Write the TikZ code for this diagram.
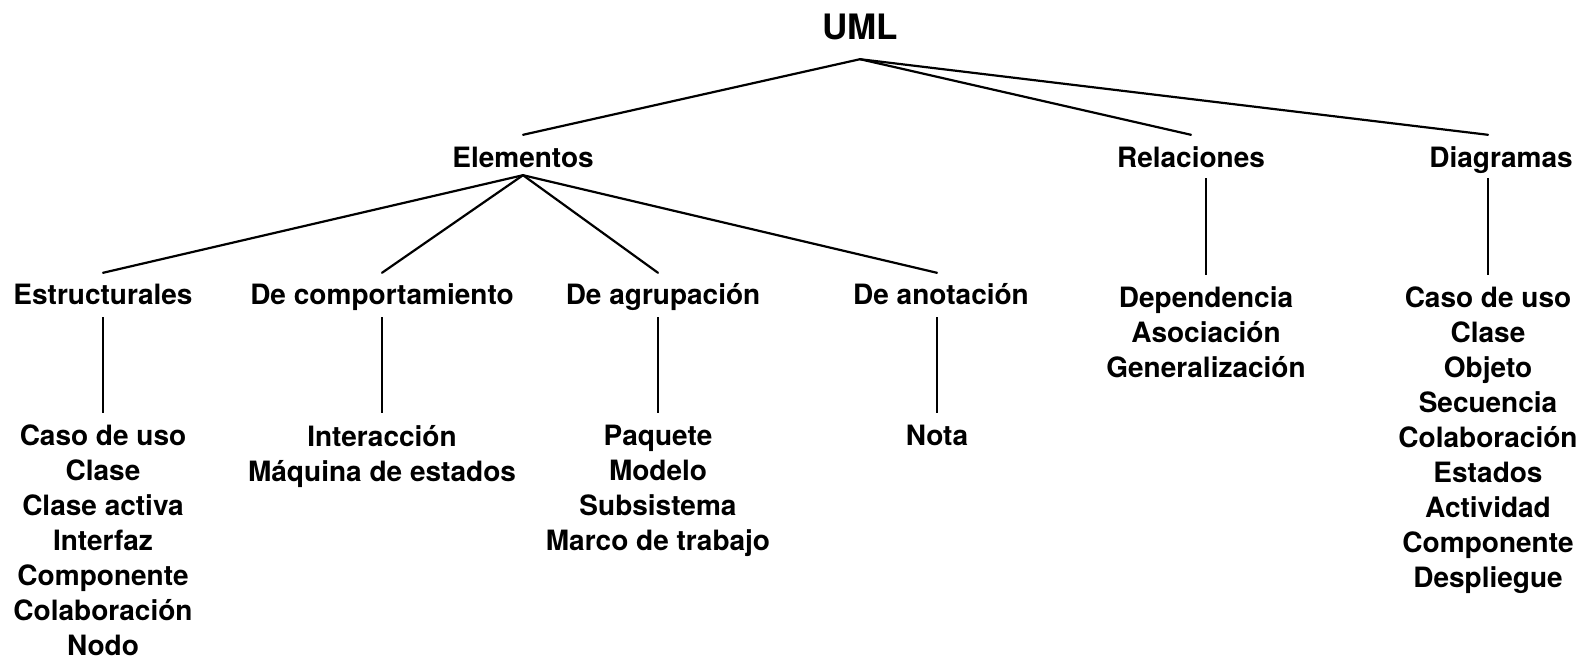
\documentclass[tikz,border=0pt]{standalone}
\usepackage{fontspec}
\setmainfont{TeX Gyre Heros}
\begin{document}
\begin{tikzpicture}[x=1pt,y=-1pt,
  txt/.style={font=\fontsize{28pt}{35pt}\selectfont\bfseries, inner sep=0pt, align=center},
  top/.style={font=\fontsize{35pt}{40pt}\selectfont\bfseries, inner sep=0pt, anchor=base, text depth=19pt},
  lvlone/.style={txt, anchor=base, text height=32pt, text depth=8pt},
  lvltwo/.style={txt, anchor=base, text height=31pt, text depth=13pt},
  leaflist/.style={txt, anchor=north, outer sep=12pt},
  conn/.style={line width=2.2pt, line cap=round},
  vconn/.style={line width=2.6pt}]
\useasboundingbox (0,0) rectangle (1595,669);
\fill[white] (0,0) rectangle (1595,669);

\node[top] (uml) at (860,40) {UML};

\node[lvlone] (elem) at (523,167) {Elementos};
\node[lvlone] (rel) at (1191,167) {Relaciones};
\node[lvlone] (diag) at (1501,167) {Diagramas};

\node[lvltwo] (estr) at (103,304) {Estructurales};
\node[lvltwo] (comp) at (382,304) {De comportamiento};
\node[lvltwo] (agr) at (663,304) {De agrupación};
\node[lvltwo] (anot) at (941,304) {De anotación};

\node[leaflist] (estrlist) at (103,413) {Caso de uso\\Clase\\Clase activa\\Interfaz\\Componente\\Colaboración\\Nodo};
\node[leaflist] (complist) at (382,413) {Interacción\\Máquina de estados};
\node[leaflist] (agrlist) at (658,413) {Paquete\\Modelo\\Subsistema\\Marco de trabajo};
\node[leaflist] (anotlist) at (937,413) {Nota};
\node[leaflist] (rellist) at (1206,275) {Dependencia\\Asociación\\Generalización};
\node[leaflist] (diaglist) at (1488,275) {Caso de uso\\Clase\\Objeto\\Secuencia\\Colaboración\\Estados\\Actividad\\Componente\\Despliegue};

% UML to level one
\draw[conn] (uml.south) -- (elem.north);
\draw[conn] (uml.south) -- (rel.north);
\draw[conn] (uml.south) -- (diag.north -| diaglist.north);

% Elementos to level two
\draw[conn] (elem.south) -- (estr.north -| estrlist.north);
\draw[conn] (elem.south) -- (comp.north -| complist.north);
\draw[conn] (elem.south) -- (agr.north -| agrlist.north);
\draw[conn] (elem.south) -- (anot.north -| anotlist.north);

% vertical connectors
\draw[vconn] (estr.south -| estrlist.north) -- (estrlist.north);
\draw[vconn] (comp.south -| complist.north) -- (complist.north);
\draw[vconn] (agr.south -| agrlist.north) -- (agrlist.north);
\draw[vconn] (anot.south -| anotlist.north) -- (anotlist.north);
\draw[vconn, shorten <=3pt] (rel.south -| rellist.north) -- (rellist.north);
\draw[vconn, shorten <=3pt] (diag.south -| diaglist.north) -- (diaglist.north);
\end{tikzpicture}
\end{document}
